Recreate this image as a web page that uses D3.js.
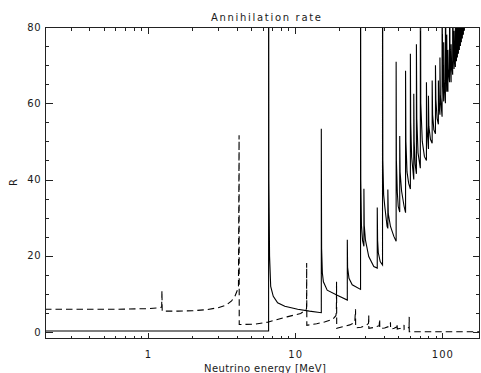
<!DOCTYPE html>
<html>
<head>
<meta charset="utf-8">
<script src="https://cdn.jsdelivr.net/npm/d3@7"></script>
<style>
  body { margin: 0; background: #fff; }
  svg { display: block; }
  text { font-family: "DejaVu Sans", sans-serif; fill: #1a1a1a; }
</style>
</head>
<body>
<div id="chart"></div>
<script>
// [energy in MeV, rate R]
const solidRate = [
  [0.2, 0.3], [6.6, 0.3],
  [6.6, 120], [6.63, 40], [6.7, 20], [6.82, 12], [7.1, 9.4], [7.6, 7.7], [8.5, 6.8], [10.4, 6.0], [12.5, 5.5], [15.05, 5.1],
  [15.05, 53.3], [15.12, 22], [15.3, 15.5], [15.55, 13.2], [16.5, 11.0], [19.3, 9.7], [22.6, 8.4],
  [22.6, 24.2], [22.7, 17], [23.2, 14.1], [24.4, 12.4], [27.8, 11.2],
  [27.8, 120], [27.9, 40], [28.2, 28], [28.7, 24], [29.3, 22.5],
  [29.3, 37.6], [29.45, 28], [30, 24.2], [31.6, 19.8], [34.2, 17.2], [36.1, 16.8],
  [36.1, 32.7], [36.3, 24], [36.7, 20.8], [37.8, 18.5], [39.2, 17.6],
  [39.2, 120], [39.4, 45], [39.9, 36], [40.6, 33], [42.1, 27.7], [42.6, 27.2],
  [42.6, 37.4], [42.9, 31], [44.4, 27.7], [46.8, 25.1], [48.5, 23.8],
  [48.5, 70.9], [48.7, 45], [49.4, 36.6], [50.1, 33], [51.3, 31.5],
  [51.3, 51.4], [51.6, 42], [52.8, 37], [54.9, 33], [56.2, 31.3],
  [56.2, 68.5], [56.5, 50], [57.5, 42], [59, 39], [60.6, 37.5],
  [60.6, 73], [60.9, 55], [61.8, 46], [63.9, 40],
  [63.9, 62.5], [64.3, 50], [65.3, 44], [66.6, 41.5],
  [66.6, 75.5], [67, 56], [68.3, 47], [70.8, 43],
  [70.8, 120], [71.3, 60], [73, 50], [75.5, 46], [77.9, 45],
  [77.9, 65.5], [78.4, 54], [80.4, 48],
  [80.4, 62], [80.9, 54], [83, 50.5], [85.2, 49.5],
  [85.2, 66], [85.8, 57], [87.5, 53], [89.7, 52],
  [89.7, 70], [90.3, 61], [92, 56], [93.9, 54.5],
  [93.9, 66], [94.5, 60], [96.2, 57],
  [96.2, 72], [96.8, 62], [99.5, 56.5],
  [99.5, 120], [100.2, 70], [102, 60.5],
  [102, 76], [102.7, 66], [104.8, 60],
  [104.8, 120], [105.5, 72], [107, 63],
  [107, 78], [107.6, 69], [109, 63],
  [109, 74], [109.7, 69], [111.8, 65.5],
  [111.8, 120], [112.5, 74], [114.6, 65.5],
  [114.6, 75.5], [115.3, 71], [117.4, 67.5],
  [117.4, 120], [118.2, 76], [120, 69],
  [120, 79], [120.7, 74], [122.5, 69.5],
  [122.5, 120], [123.3, 78], [124.5, 71],
  [124.5, 120], [125.3, 78], [126.4, 72],
  [126.4, 120], [127.2, 80], [128.4, 73],
  [128.4, 120], [129.2, 80], [130.4, 74],
  [130.4, 120], [131.2, 81], [132.5, 75],
  [132.5, 120], [133.3, 81], [134.5, 76],
  [134.5, 120], [135.3, 82], [136.6, 77],
  [136.6, 120], [137.4, 83], [138.8, 78],
  [138.8, 120], [139.6, 84], [141, 79],
  [141, 120], [141.8, 85], [143, 80],
  [143, 120]
];

const dashedRate = [
  [0.2, 6.0], [0.6, 6.0], [1.0, 6.15], [1.2, 6.4], [1.24, 6.6],
  [1.245, 10.9], [1.25, 5.5],
  [1.6, 5.5], [2.0, 5.6], [2.5, 5.9], [3.0, 6.4], [3.4, 7.1], [3.7, 8.2], [3.9, 9.4], [4.05, 11], [4.12, 12],
  [4.16, 51.6], [4.17, 2.0],
  [5.3, 2.1], [6.5, 2.6], [8.8, 4.0], [10.9, 4.9], [11.8, 5.8], [11.95, 6.2],
  [11.97, 18.1], [12.0, 1.8],
  [14, 2.2], [16, 2.7], [18, 3.4], [18.9, 4.3], [19.05, 5.3],
  [19.1, 13.2], [19.15, 1.0],
  [21, 1.4], [23.5, 1.9], [25.4, 2.5],
  [25.7, 6.0], [25.75, 1.1],
  [28, 1.3], [30.5, 1.8], [31.5, 2.3],
  [31.6, 4.4], [31.65, 1.0],
  [34, 1.2], [37.2, 1.7],
  [37.5, 3.4], [37.55, 0.9],
  [40.5, 1.1], [44.2, 1.6],
  [44.4, 2.6], [44.45, 0.8],
  [47, 1.0], [49.2, 1.4],
  [49.3, 2.2], [49.35, 0.8],
  [52, 1.0], [54.8, 1.3],
  [54.9, 1.9], [54.95, 0.7],
  [57.5, 0.9], [59.4, 1.3],
  [59.5, 4.0], [59.55, 0.1],
  [180, 0.1]
];

const xMajorTicks = [1, 10, 100];
const yMajorTicks = [0, 20, 40, 60, 80];
const yMinorTicks = [5, 10, 15, 25, 30, 35, 45, 50, 55, 65, 70, 75];

const WIDTH = 481;
const HEIGHT = 373;
const PLOT = { left: 45, right: 480, top: 27, bottom: 339 };
const X_MAJOR_LEN = 6.5;
const X_MINOR_LEN = 3.5;
const Y_MAJOR_LEN = 7.5;
const Y_MINOR_LEN = 4;

const x = d3.scaleLog().domain([0.2, 180]).range([PLOT.left, PLOT.right]);
const y = d3.scaleLinear().domain([-1.8, 80]).range([PLOT.bottom, PLOT.top]);

const svg = d3
    .select('#chart')
    .append('svg')
    .attr('width', WIDTH)
    .attr('height', HEIGHT);

svg.append('defs')
    .append('clipPath')
    .attr('id', 'plot-clip')
    .append('rect')
    .attr('x', PLOT.left)
    .attr('y', PLOT.top)
    .attr('width', PLOT.right - PLOT.left)
    .attr('height', PLOT.bottom - PLOT.top);

const line = d3
    .line()
    .x((d) => x(d[0]))
    .y((d) => y(d[1]));

const curves = svg.append('g').attr('clip-path', 'url(#plot-clip)');
curves.append('path')
    .datum(solidRate)
    .attr('fill', 'none')
    .attr('stroke', '#000')
    .attr('stroke-width', 1.1)
    .attr('d', line);
curves.append('path')
    .datum(dashedRate)
    .attr('fill', 'none')
    .attr('stroke', '#000')
    .attr('stroke-width', 1.1)
    .attr('stroke-dasharray', '6.5,4')
    .attr('d', line);

// frame and inward ticks, IDL style
const axes = svg.append('g').attr('stroke', '#222').attr('stroke-width', 1).attr('shape-rendering', 'crispEdges');
axes.append('rect')
    .attr('x', PLOT.left + 0.5)
    .attr('y', PLOT.top + 0.5)
    .attr('width', PLOT.right - PLOT.left - 1)
    .attr('height', PLOT.bottom - PLOT.top - 1)
    .attr('fill', 'none');

const xTicks = x.ticks().filter((v) => v > 0.2 && v < 180);
const xTickLen = (v) => (xMajorTicks.includes(v) ? X_MAJOR_LEN : X_MINOR_LEN);
axes.selectAll('line.xb')
    .data(xTicks)
    .join('line')
    .attr('class', 'xb')
    .attr('x1', (d) => Math.round(x(d)) + 0.5)
    .attr('x2', (d) => Math.round(x(d)) + 0.5)
    .attr('y1', PLOT.bottom)
    .attr('y2', (d) => PLOT.bottom - xTickLen(d));
axes.selectAll('line.xt')
    .data(xTicks)
    .join('line')
    .attr('class', 'xt')
    .attr('x1', (d) => Math.round(x(d)) + 0.5)
    .attr('x2', (d) => Math.round(x(d)) + 0.5)
    .attr('y1', PLOT.top)
    .attr('y2', (d) => PLOT.top + xTickLen(d));

const yTicks = yMajorTicks.concat(yMinorTicks);
const yTickLen = (v) => (yMajorTicks.includes(v) ? Y_MAJOR_LEN : Y_MINOR_LEN);
axes.selectAll('line.yl')
    .data(yTicks)
    .join('line')
    .attr('class', 'yl')
    .attr('x1', PLOT.left)
    .attr('x2', (d) => PLOT.left + yTickLen(d))
    .attr('y1', (d) => Math.round(y(d)) + 0.5)
    .attr('y2', (d) => Math.round(y(d)) + 0.5);
axes.selectAll('line.yr')
    .data(yTicks)
    .join('line')
    .attr('class', 'yr')
    .attr('x1', PLOT.right)
    .attr('x2', (d) => PLOT.right - yTickLen(d))
    .attr('y1', (d) => Math.round(y(d)) + 0.5)
    .attr('y2', (d) => Math.round(y(d)) + 0.5);

svg.selectAll('text.xlab')
    .data(xMajorTicks)
    .join('text')
    .attr('class', 'xlab')
    .attr('x', (d) => x(d) + 0.5)
    .attr('y', 357.5)
    .attr('text-anchor', 'middle')
    .attr('font-size', 10)
    .attr('letter-spacing', 1)
    .text((d) => d);

svg.selectAll('text.ylab')
    .data(yMajorTicks)
    .join('text')
    .attr('class', 'ylab')
    .attr('x', 41.5)
    .attr('y', (d) => y(d))
    .attr('dy', '0.36em')
    .attr('text-anchor', 'end')
    .attr('font-size', 10)
    .attr('letter-spacing', 0.8)
    .text((d) => d);

svg.append('text')
    .attr('x', 266)
    .attr('y', 21)
    .attr('text-anchor', 'middle')
    .attr('font-size', 10)
    .attr('textLength', 110)
    .attr('lengthAdjust', 'spacing')
    .text('Annihilation rate');

svg.append('text')
    .attr('x', 265)
    .attr('y', 371.5)
    .attr('text-anchor', 'middle')
    .attr('font-size', 10)
    .attr('textLength', 122)
    .attr('lengthAdjust', 'spacing')
    .text('Neutrino energy [MeV]');

svg.append('text')
    .attr('transform', 'translate(16.5,182.5) rotate(-90)')
    .attr('text-anchor', 'middle')
    .attr('font-size', 10)
    .text('R');
</script>
</body>
</html>
